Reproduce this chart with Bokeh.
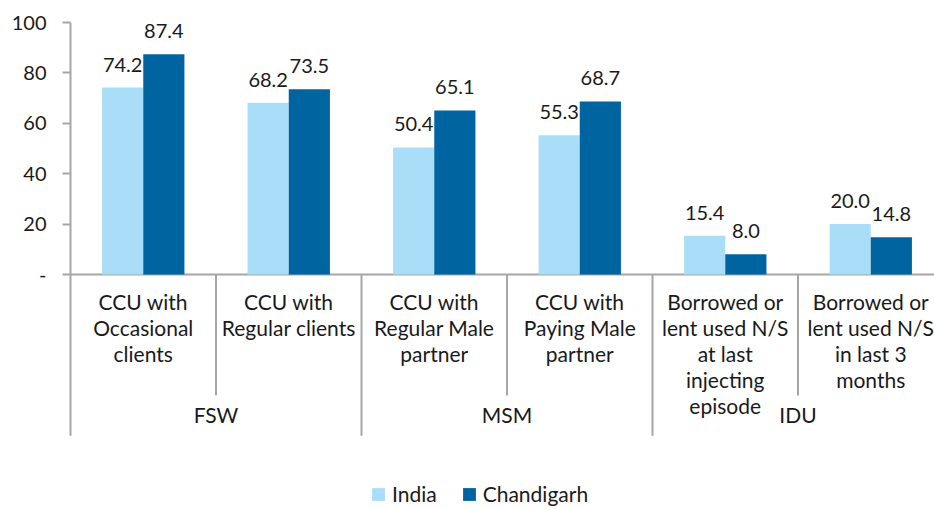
from bokeh.plotting import figure
from bokeh.models import Range1d, FixedTicker, Legend, LegendItem
from bokeh.core.properties import value
from bokeh.embed import file_html
from bokeh.resources import INLINE

# ---- data ----
groups = ["FSW", "MSM", "IDU"]
categories = [
    "CCU with\nOccasional\nclients",
    "CCU with\nRegular clients",
    "CCU with\nRegular Male\npartner",
    "CCU with\nPaying Male\npartner",
    "Borrowed or\nlent used N/S\nat last\ninjecting\nepisode",
    "Borrowed or\nlent used N/S\nin last 3\nmonths",
]
cat_group = [0, 0, 1, 1, 2, 2]
india = [74.2, 68.2, 50.4, 55.3, 15.4, 20.0]
chandigarh = [87.4, 73.5, 65.1, 68.7, 8.0, 14.8]
series_names = ["India", "Chandigarh"]
y_ticks = [0, 20, 40, 60, 80, 100]

# ---- style ----
FONT = "Lato"
C_INDIA = "#AADEF8"
C_CHD = "#0064A0"
GRID = "#A6A6A6"
TXT = "#1a1a1a"

n = len(categories)
centers = [i + 0.5 for i in range(n)]
bw = 0.283
x_india = [c - bw / 2 for c in centers]
x_chd = [c + bw / 2 for c in centers]

PX = 145.5  # pixels per category
x0 = -4 / PX
p = figure(width=934, height=509, output_backend="svg", toolbar_location=None,
           x_range=Range1d(x0, 864 / PX), y_range=Range1d(-100 * 487 / 252 + 100, 100),
           min_border_left=66, min_border_right=0, min_border_top=22, min_border_bottom=0)
p.outline_line_color = None
p.xgrid.visible = False
p.ygrid.visible = False
p.xaxis.visible = False

ya = p.yaxis[0]
ya.ticker = FixedTicker(ticks=y_ticks)
ya.major_label_overrides = {0: "-"}
ya.axis_line_color = None
ya.major_tick_line_color = GRID
ya.major_tick_line_width = 2
ya.major_tick_out = 4
ya.major_tick_in = 4
ya.minor_tick_line_color = None
ya.major_label_standoff = 16
ya.major_label_text_font = FONT
ya.major_label_text_font_size = "20px"
ya.major_label_text_color = TXT

# axis lines
p.segment(x0=[0], y0=[0], x1=[n], y1=[0], line_color=GRID, line_width=2)
p.segment(x0=[0], y0=[100], x1=[0], y1=[-64], line_color=GRID, line_width=2)

r_india = p.vbar(x=x_india, top=india, width=bw, bottom=0, fill_color=C_INDIA, line_color=None)
r_chd = p.vbar(x=x_chd, top=chandigarh, width=bw, bottom=0, fill_color=C_CHD, line_color=None)

# data labels
p.text(x=x_india, y=india, text=[f"{v:.1f}" for v in india], text_align="center",
       text_baseline="alphabetic", y_offset=-23, text_font=value(FONT),
       text_font_size="20px", text_color=TXT)
p.text(x=x_chd, y=chandigarh, text=[f"{v:.1f}" for v in chandigarh], text_align="center",
       text_baseline="alphabetic", y_offset=-23, text_font=value(FONT),
       text_font_size="20px", text_color=TXT)

# separators
inner = [i for i in range(1, n) if cat_group[i] == cat_group[i - 1]]
outer = [i for i in range(1, n + 1) if i == n or cat_group[i] != cat_group[i - 1]]
p.segment(x0=inner, y0=[0] * len(inner), x1=inner, y1=[-48] * len(inner), line_color=GRID, line_width=2)
p.segment(x0=outer, y0=[0] * len(outer), x1=outer, y1=[-64] * len(outer), line_color=GRID, line_width=2)

# category labels
p.text(x=centers, y=[-5.6] * n, text=categories, text_align="center", text_baseline="top",
       text_font=value(FONT), text_font_size="21px", text_color=TXT, text_line_height=1.04)
# group labels
gx = []
for g in range(len(groups)):
    idx = [i for i in range(n) if cat_group[i] == g]
    gx.append((min(idx) + max(idx) + 1) / 2)
p.text(x=gx, y=[-55.5] * len(groups), text=groups, text_align="center", text_baseline="middle",
       text_font=value(FONT), text_font_size="21px", text_color=TXT)

legend = Legend(items=[LegendItem(label=series_names[0], renderers=[r_india]),
                       LegendItem(label=series_names[1], renderers=[r_chd])],
                orientation="horizontal", location=(304, 3),
                label_text_font=FONT, label_text_font_size="21px", label_text_color=TXT,
                glyph_width=16, glyph_height=16, label_standoff=6, spacing=24,
                padding=0, margin=0, border_line_color=None, background_fill_alpha=0)
p.add_layout(legend, "center")

open("out.html", "w").write(file_html(p, INLINE))
